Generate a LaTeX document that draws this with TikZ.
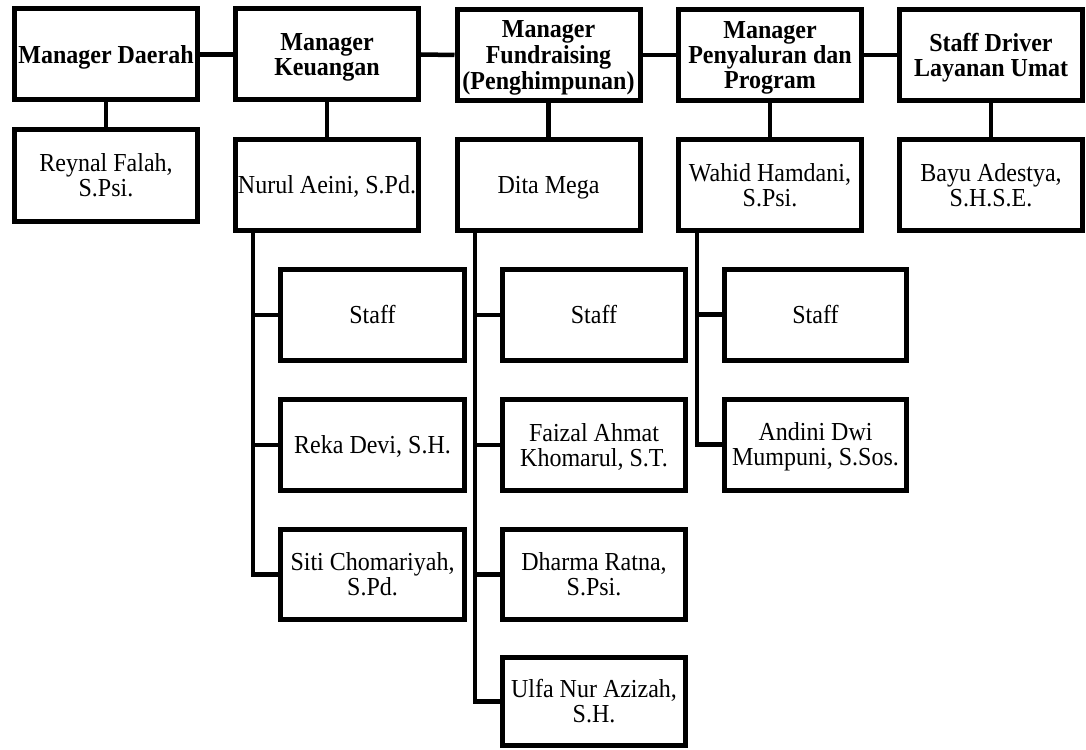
\documentclass[tikz,border=0pt]{standalone}
\usepackage{graphicx}
\usepackage{fontspec}
\setmainfont{Liberation Serif}
\newcommand{\boxtext}[1]{\raisebox{-3.5pt}[\height][\depth]{\scalebox{1}[1.08]{\begin{tabular}{@{}c@{}}#1\end{tabular}}}}
\begin{document}
\begin{tikzpicture}[x=1pt,y=-1pt,
  box/.style={draw=black, line width=5pt, fill=white, inner sep=0pt,
    minimum width=183pt, minimum height=91pt, align=center,
    font=\fontsize{24}{23.1}\selectfont},
  headbox/.style={box, font=\fontsize{24}{23.4}\selectfont\bfseries},
  conn/.style={draw=black, line width=4.5pt}]
\useasboundingbox (0,0) rectangle (1086,749);
% top row
\node[headbox] (daerah) at (106,54.5) {\boxtext{Manager Daerah}};
\node[headbox] (keu) at (327,54.5) {\boxtext{Manager\\Keuangan}};
\node[headbox] (fund) at (548.5,55) {\boxtext{Manager\\Fundraising\\(Penghimpunan)}};
\node[headbox] (peny) at (770,55) {\boxtext{Manager\\Penyaluran dan\\Program}};
\node[headbox] (driver) at (991,55) {\boxtext{Staff Driver\\Layanan Umat}};
% second row
\node[box, minimum height=92pt] (reynal) at (106,175.5) {\boxtext{Reynal Falah,\\S.Psi.}};
\node[box] (nurul) at (327,185) {\boxtext{Nurul Aeini, S.Pd.}};
\node[box] (dita) at (548.5,185) {\boxtext{Dita Mega}};
\node[box] (wahid) at (770,185) {\boxtext{Wahid Hamdani,\\S.Psi.}};
\node[box] (bayu) at (991,185) {\boxtext{Bayu Adestya,\\S.H.S.E.}};
% Keuangan staff
\node[box, minimum width=184pt] (staffK) at (372.5,315) {\boxtext{Staff}};
\node[box, minimum width=184pt] (reka) at (372.5,445) {\boxtext{Reka Devi, S.H.}};
\node[box, minimum width=184pt, minimum height=90pt] (siti) at (372.5,574.5) {\boxtext{Siti Chomariyah,\\S.Pd.}};
% Fundraising staff
\node[box] (staffF) at (594,315) {\boxtext{Staff}};
\node[box] (faizal) at (594,445) {\boxtext{Faizal Ahmat\\Khomarul, S.T.}};
\node[box, minimum height=90pt] (dharma) at (594,574.5) {\boxtext{Dharma Ratna,\\S.Psi.}};
\node[box, minimum height=88pt] (ulfa) at (594,701.5) {\boxtext{Ulfa Nur Azizah,\\S.H.}};
% Penyaluran staff
\node[box, minimum width=182pt] (staffP) at (815.5,314.5) {\boxtext{Staff}};
\node[box, minimum width=182pt] (andini) at (815.5,444.5) {\boxtext{Andini Dwi\\Mumpuni, S.Sos.}};
% bus coordinates
\coordinate (kbus) at (253,0);
\coordinate (fbus) at (475,0);
\coordinate (pbus) at (697,0);
% top links
\draw[conn] (daerah.east) -- (keu.west);
\draw[conn] (keu.east) -- (fund.west);
\draw[conn] (fund.east) -- (peny.west);
\draw[conn] (peny.east) -- (driver.west);
% down links
\draw[conn] (daerah.south) -- (reynal.north);
\draw[conn] (keu.south) -- (nurul.north);
\draw[conn] (fund.south) -- (dita.north);
\draw[conn] (peny.south) -- (wahid.north);
\draw[conn] (driver.south) -- (bayu.north);
% Keuangan bus
\draw[conn] (nurul.south -| kbus) |- (siti.west);
\draw[conn] (staffK.west -| kbus) -- (staffK.west);
\draw[conn] (reka.west -| kbus) -- (reka.west);
% Fundraising bus
\draw[conn] (dita.south -| fbus) |- (ulfa.west);
\draw[conn] (staffF.west -| fbus) -- (staffF.west);
\draw[conn] (faizal.west -| fbus) -- (faizal.west);
\draw[conn] (dharma.west -| fbus) -- (dharma.west);
% Penyaluran bus
\draw[conn] (wahid.south -| pbus) |- (andini.west);
\draw[conn] (staffP.west -| pbus) -- (staffP.west);
\end{tikzpicture}
\end{document}
